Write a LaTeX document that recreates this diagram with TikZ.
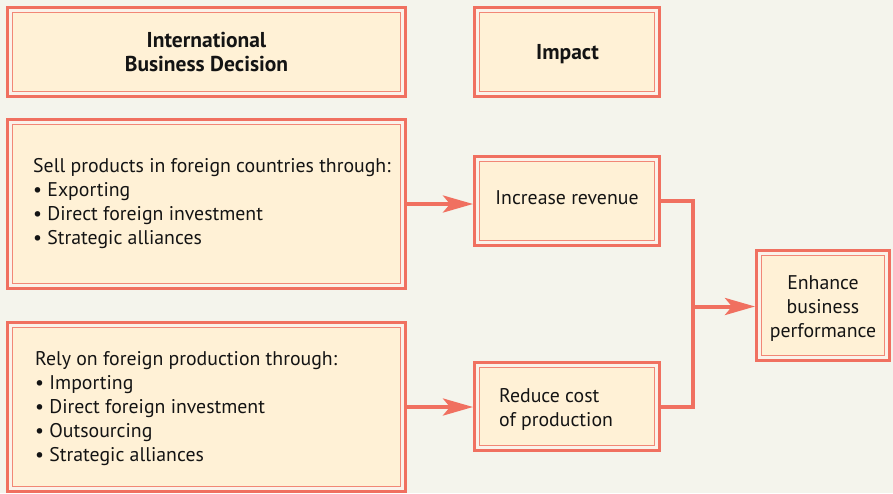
\documentclass[tikz,border=0pt]{standalone}
\usepackage{fontspec}
\setmainfont{PT Sans}
\usetikzlibrary{arrows.meta}
\definecolor{bord}{RGB}{240,112,96}
\definecolor{bordin}{RGB}{242,135,118}
\definecolor{gapc}{RGB}{250,242,234}
\definecolor{cream}{RGB}{255,241,214}
\definecolor{bgc}{RGB}{244,244,236}
\definecolor{ink}{RGB}{20,20,20}
\begin{document}
\begin{tikzpicture}[x=1pt,y=-1pt,
  dbox/.style={rectangle, draw=bord, line width=3pt, fill=gapc, inner sep=0pt,
    path picture={\draw[line width=1.3pt, draw=bordin, fill=cream]
      ([shift={(5pt,5pt)}]path picture bounding box.south west) rectangle
      ([shift={(-5pt,-5pt)}]path picture bounding box.north east);}},
  txt/.style={font=\fontsize{19.8}{24}\selectfont, text=ink, inner sep=0pt},
  btxt/.style={txt, font=\fontsize{21.5}{24}\selectfont\bfseries},
  conn/.style={draw=bord, line width=4pt},
  arr/.style={conn, -{Stealth[length=30pt,width=17pt,inset=7pt]}}]
\fill[bgc] (0,0) rectangle (893,493);
\useasboundingbox (0,0) rectangle (893,493);
% boxes
\node[dbox, minimum width=398pt, minimum height=89pt] (b1) at (206.5,52) {};
\node[dbox, minimum width=185pt, minimum height=89pt] (b2) at (567,52) {};
\node[dbox, minimum width=398pt, minimum height=169pt] (b3) at (206.5,204) {};
\node[dbox, minimum width=398pt, minimum height=169pt] (b4) at (206.5,407) {};
\node[dbox, minimum width=185pt, minimum height=89pt] (b5) at (567,201) {};
\node[dbox, minimum width=185pt, minimum height=88pt] (b6) at (567,406.5) {};
\node[dbox, minimum width=133pt, minimum height=110pt] (b7) at (823,305.5) {};
% texts
\node[btxt, anchor=base] (t1) at (206.5,47)
  {\begin{tabular}[t]{@{}c@{}}International\\Business Decision\end{tabular}};
\node[btxt, anchor=base] (t2) at (567.5,59) {Impact};
\node[txt, anchor=base west] (t3) at (33,172)
  {\begin{tabular}[t]{@{}l@{}}Sell products in foreign countries through:\\
   • Exporting\\ • Direct foreign investment\\ • Strategic alliances\end{tabular}};
\node[txt, anchor=base west] (t4) at (35,365)
  {\begin{tabular}[t]{@{}l@{}}Rely on foreign production through:\\
   • Importing\\ • Direct foreign investment\\ • Outsourcing\\ • Strategic alliances\end{tabular}};
\node[txt, anchor=base] (t5) at (567,204) {Increase revenue};
\node[txt, anchor=base west] (t6) at (499,402)
  {\begin{tabular}[t]{@{}l@{}}Reduce cost\\of production\end{tabular}};
\node[txt, anchor=base] (t7) at (823,289)
  {\begin{tabular}[t]{@{}c@{}}Enhance\\business\\performance\end{tabular}};
% connectors
\coordinate (j) at (693,306.5);
\draw[arr] (b3.east) -- (b3.east -| b5.west);
\draw[arr] (b4.east) -- (b4.east -| b6.west);
\draw[conn] (b5.east) -| (j) |- (b6.east);
\draw[arr] (j) -- (j -| b7.west);
\end{tikzpicture}
\end{document}
